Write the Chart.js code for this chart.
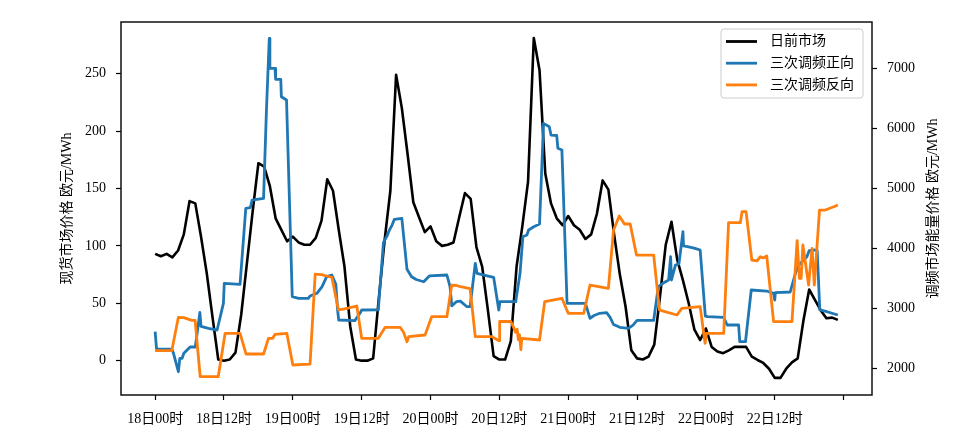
<!DOCTYPE html>
<html>
<head>
<meta charset="utf-8">
<script src="https://cdn.jsdelivr.net/npm/chart.js@4/dist/chart.umd.min.js"></script>
<style>
  html, body { margin: 0; padding: 0; background: #fff; }
  #wrap { width: 968px; height: 448px; }
</style>
</head>
<body>
<div id="wrap"><canvas id="chart" width="968" height="448"></canvas></div>
<script>
const FONT = '"Liberation Serif", "Noto Sans CJK SC", serif';

// x axis: hours since 18日00时
const xTickHours = [0, 12, 24, 36, 48, 60, 72, 84, 96, 108, 120];
const xTickLabels = ['18日00时', '18日12时', '19日00时', '19日12时', '20日00时', '20日12时',
  '21日00时', '21日12时', '22日00时', '22日12时', ''];
const leftTicks = [0, 50, 100, 150, 200, 250];
const rightTicks = [2000, 3000, 4000, 5000, 6000, 7000];

// 日前市场, hourly, 欧元/MWh
const dayAheadPrice = [
  93, 91, 93, 90, 96, 110, 139, 137, 108, 76, 38, 1,
  0, 1, 7, 40, 85, 130, 172, 169, 152, 124, 114, 104,
  108, 103, 101, 101, 107, 122, 158, 148, 114, 82, 30, 1,
  0, 0, 2, 55, 105, 148, 249, 220, 180, 138, 125, 112,
  117, 104, 100, 101, 103, 125, 146, 141, 99, 82, 44, 4,
  1, 1, 17, 82, 117, 156, 281, 253, 163, 137, 124, 118,
  126, 118, 114, 106, 110, 128, 157, 149, 110, 75, 47, 9,
  2, 1, 3.5, 14, 56, 101, 121, 88, 70, 50, 27, 18,
  28, 12, 8, 6.5, 9, 12, 12, 12, 3.5, 0.6, -2, -7,
  -15, -15, -7, -1.5, 2, 35, 62, 53, 44, 37, 37.5, 35.5
];
const dayAheadHours = dayAheadPrice.map((_, i) => i);

// 三次调频正向 (energy price, 欧元/MWh)
const upHours = [
  0, 0.25, 2.9, 3.2, 4.05, 4.3, 4.7, 5.0, 6.1, 7.0, 7.8, 8.0, 9.3, 10.8, 11.9, 12.05,
  14.8, 15.8, 16.6, 16.9, 18.9, 19.4, 19.9, 20.0, 20.9, 21.0, 21.9, 22.0, 22.9, 23.9,
  25.0, 26.7, 27.0, 28.2, 29.1, 29.9, 30.8, 31.5, 31.8, 32.0, 34.8, 35.7, 36.0, 38.9,
  39.8, 40.5, 40.7, 41.3, 41.7, 43.0, 43.9, 44.7, 45.5, 46.8, 47.8, 50.85, 51.4, 51.7,
  52.5, 53.2, 54.3, 54.9, 55.8, 56.1, 57.5, 59.0, 59.9, 60.1, 62.85, 63.6, 64.1, 64.8,
  65.1, 66.0, 67.0, 67.7, 68.7, 69.0, 70.0, 70.2, 70.9, 71.8, 75.0, 75.8, 76.5, 77.5,
  78.7, 79.3, 79.9, 81.0, 82.5, 83.3, 84.0, 86.9, 87.7, 88.5, 89.5, 89.85, 90.0, 90.7,
  91.3, 92.0, 92.1, 93.2, 94.1, 95.0, 95.9, 96.3, 99.1, 99.7, 101.7, 101.9, 102.9, 103.9,
  106.6, 107.8, 108.0, 108.1, 110.7, 111.6, 112.2, 113.6, 114.0, 115.0, 115.4, 115.85,
  117.1, 119.0
];
const upPrice = [
  2610, 2320, 2320, 2250, 1943, 2167, 2167, 2250, 2355, 2355, 2930, 2700, 2667, 2638, 3083, 3417,
  3400, 4667, 4680, 4805, 4833, 6300, 7500, 7000, 7000, 6817, 6817, 6527, 6472, 3193,
  3167, 3167, 3205, 3250, 3360, 3527, 3555, 3400, 2972, 2805, 2795, 2917, 2972, 2975,
  4100, 4222, 4277, 4388, 4483, 4500, 3650, 3527, 3480, 3443, 3540, 3555, 3360, 3040,
  3110, 3120, 3030, 3027, 3750, 3583, 3550, 3517, 2972, 3110, 3110, 3583, 4193, 4222,
  4305, 4360, 4405, 6083, 6027, 5888, 5880, 5667, 5638, 3083, 3083, 2833, 2880, 2917,
  2927, 2850, 2730, 2683, 2667, 2720, 2800, 2800, 3360, 3417, 3472, 3860, 3472, 3722,
  3740, 4277, 4040, 4020, 4000, 3972, 2870, 2860, 2850, 2722, 2722, 2443, 2443, 3305,
  3288, 3250, 3138, 3260, 3272, 3583, 3722, 3860, 3960, 3972, 3960, 2972,
  2943, 2888
];

// 三次调频反向 (energy price, 欧元/MWh)
const downHours = [
  0, 2.9, 4.05, 5.0, 6.4, 6.97, 7.85, 11.0, 12.2, 14.8, 15.85, 18.9, 19.75, 20.5, 20.9,
  22.95, 24.0, 27.0, 27.9, 29.0, 30.2, 30.8, 31.95, 33.0, 35.15, 36.0, 38.9, 40.1, 42.7,
  43.3, 43.9, 44.2, 47.05, 48.2, 50.85, 51.7, 52.5, 53.2, 54.9, 55.8, 58.7, 59.95, 60.05,
  62.0, 62.4, 62.8, 63.1, 63.3, 63.5, 63.75, 63.9, 67.0, 67.9, 70.9, 72.0, 74.7, 75.8,
  79.0, 79.9, 80.9, 81.8, 82.8, 83.9, 86.9, 87.9, 88.7, 90.95, 91.8, 95.0, 95.85, 96.1,
  99.1, 99.95, 102.0, 102.3, 103.0, 104.0, 104.9, 105.5, 106.0, 106.6, 107.8, 111.0,
  111.9, 112.3, 112.6, 112.9, 113.9, 114.5, 114.9, 115.8, 116.8, 118.3, 119.0
];
const downPrice = [
  2293, 2293, 2850, 2845, 2800, 2800, 1860, 1860, 2583, 2583, 2238, 2238, 2500, 2500, 2567,
  2583, 2055, 2070, 3570, 3560, 3530, 3517, 2972, 2990, 3038, 2500, 2500, 2683, 2683,
  2600, 2443, 2527, 2555, 2860, 2860, 3388, 3380, 3360, 3330, 2527, 2527, 2460, 2780,
  2780, 2700, 2600, 2650, 2480, 2560, 2310, 2500, 2472, 3110, 3167, 2917, 2917, 3388,
  3333, 4305, 4538, 4405, 4405, 3888, 3888, 2972, 2950, 2888, 3000, 3027, 2417, 2583,
  2583, 4427, 4427, 4610, 4610, 3805, 3790, 3860, 3840, 3872, 2777, 2777,
  4127, 3500, 3500, 4055, 3388, 4000, 3388, 4638, 4638, 4693, 4722
];

const toPoints = (xs, ys) => xs.map((x, i) => ({ x: x, y: ys[i] }));

const axisTitles = {
  id: 'axisTitles',
  afterDraw(chart) {
    const { ctx, chartArea } = chart;
    const midY = (chartArea.top + chartArea.bottom) / 2;
    ctx.save();
    ctx.font = '14px ' + FONT;
    ctx.fillStyle = '#000';
    ctx.textAlign = 'center';
    ctx.textBaseline = 'middle';
    [[67, '现货市场价格 欧元/MWh'], [933, '调频市场能量价格 欧元/MWh']].forEach(([x, text]) => {
      ctx.save();
      ctx.translate(x, midY);
      ctx.rotate(-Math.PI / 2);
      ctx.fillText(text, 0, 0);
      ctx.restore();
    });
    ctx.restore();
  }
};

const frame = {
  id: 'frame',
  afterDraw(chart) {
    const { ctx, chartArea: a } = chart;
    ctx.save();
    ctx.strokeStyle = '#111';
    ctx.lineWidth = 1.5;
    ctx.strokeRect(a.left, a.top, a.right - a.left, a.bottom - a.top);
    ctx.restore();
  }
};

const boxLegend = {
  id: 'boxLegend',
  afterDraw(chart) {
    const { ctx, chartArea: a } = chart;
    const w = 142, h = 69;
    const x0 = a.right - 9 - w, y0 = a.top + 7;
    ctx.save();
    ctx.beginPath();
    ctx.roundRect(x0, y0, w, h, 3);
    ctx.fillStyle = 'rgba(255,255,255,0.8)';
    ctx.fill();
    ctx.strokeStyle = '#cccccc';
    ctx.lineWidth = 1;
    ctx.stroke();
    ctx.font = '14px ' + FONT;
    ctx.textBaseline = 'middle';
    ctx.textAlign = 'left';
    chart.data.datasets.forEach((ds, i) => {
      const y = y0 + 12.5 + i * 21.7;
      ctx.beginPath();
      ctx.moveTo(x0 + 5, y);
      ctx.lineTo(x0 + 36, y);
      ctx.strokeStyle = ds.borderColor;
      ctx.lineWidth = 2.8;
      ctx.stroke();
      ctx.fillStyle = '#000';
      ctx.fillText(ds.label, x0 + 49, y);
    });
    ctx.restore();
  }
};

const tickGrid = {
  drawOnChartArea: false,
  drawTicks: true,
  tickLength: 5,
  tickColor: '#000',
  tickWidth: 1.2
};
const tickFont = { family: FONT, size: 14 };

new Chart(document.getElementById('chart'), {
  type: 'line',
  data: {
    datasets: [
      { label: '日前市场', data: toPoints(dayAheadHours, dayAheadPrice), yAxisID: 'y',
        borderColor: '#000000', borderWidth: 2.6, order: 2 },
      { label: '三次调频正向', data: toPoints(upHours, upPrice), yAxisID: 'y2',
        borderColor: '#1f77b4', borderWidth: 2.8, order: 1 },
      { label: '三次调频反向', data: toPoints(downHours, downPrice), yAxisID: 'y2',
        borderColor: '#ff7f0e', borderWidth: 2.8, order: 0 }
    ]
  },
  options: {
    responsive: false,
    animation: false,
    layout: { padding: { top: 22, left: 0, right: 0, bottom: 0 } },
    elements: { point: { radius: 0 }, line: { tension: 0, borderJoinStyle: 'round', borderCapStyle: 'butt' } },
    plugins: { legend: { display: false }, tooltip: { enabled: false } },
    scales: {
      x: {
        type: 'linear', min: -5.95, max: 124.95,
        afterBuildTicks: s => { s.ticks = xTickHours.map(v => ({ value: v })); },
        afterFit: s => { s.height = 53; },
        ticks: { callback: (v, i) => xTickLabels[i], font: tickFont, color: '#000',
          padding: 11, maxRotation: 0, autoSkip: false },
        grid: tickGrid,
        border: { display: false }
      },
      y: {
        position: 'left', min: -29.9, max: 295,
        afterBuildTicks: s => { s.ticks = leftTicks.map(v => ({ value: v })); },
        afterFit: s => { s.width = 121; },
        ticks: { font: tickFont, color: '#000', padding: 10 },
        grid: tickGrid,
        border: { display: false }
      },
      y2: {
        position: 'right', min: 1555, max: 7772,
        afterBuildTicks: s => { s.ticks = rightTicks.map(v => ({ value: v })); },
        afterFit: s => { s.width = 96; },
        ticks: { font: tickFont, color: '#000', padding: 10, callback: v => String(v) },
        grid: tickGrid,
        border: { display: false }
      }
    }
  },
  plugins: [frame, boxLegend, axisTitles]
});
</script>
</body>
</html>
